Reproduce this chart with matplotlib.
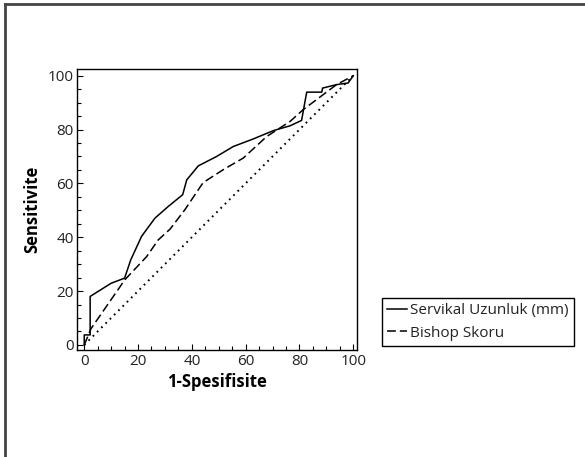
import matplotlib.pyplot as plt
from matplotlib.lines import Line2D
from matplotlib.ticker import MultipleLocator

plt.rcParams['font.family'] = ['Open Sans', 'DejaVu Sans']

# ROC curve points (1-specificity, sensitivity)
servikal_x = [0, 0, 2.2, 2.2, 10.0, 15.0, 17.3, 21.3, 26.3, 31.2, 36.6, 38.1, 42.4,
              49.2, 55.4, 62.8, 70.3, 76.5, 80.8, 82.7, 88.3, 88.6, 93.8, 98.1, 100]
servikal_y = [0, 3.7, 3.7, 18.0, 22.9, 24.8, 31.6, 40.3, 47.1, 51.4, 55.8, 61.3, 66.5,
              70.0, 73.7, 76.5, 79.6, 81.4, 83.4, 93.9, 93.9, 95.4, 96.7, 97.3, 100]

bishop_x = [0, 2.5, 15.1, 23.2, 27.5, 31.9, 37.4, 44.2, 51.7, 59.1, 67.8, 76.5, 81.4, 93.8, 100]
bishop_y = [0, 6.0, 24.2, 32.8, 39.0, 43.0, 50.2, 60.3, 65.1, 69.4, 77.4, 83.0, 87.4, 96.7, 100]

ref_x = [0, 100]
ref_y = [0, 100]

labels = ['Servikal Uzunluk (mm)', 'Bishop Skoru']

fig = plt.figure(figsize=(5.85, 4.57), dpi=100)
W, H = 585, 457
ax = fig.add_axes([76.7 / W, 1 - 350 / H, (357 - 76.7) / W, (350 - 69) / H])

ax.plot(servikal_x, servikal_y, color='black', linewidth=1.1, label=labels[0])
ax.plot(bishop_x, bishop_y, color='black', linewidth=1.1, dashes=(5.8, 2.6), label=labels[1])
ax.plot(ref_x, ref_y, color='black', linewidth=1.4, linestyle=(0, (0.9, 2.2)))

ax.set_xlim(-2.8, 101.4)
ax.set_ylim(-1.9, 102.5)
ax.xaxis.set_major_locator(MultipleLocator(20))
ax.xaxis.set_minor_locator(MultipleLocator(5))
ax.yaxis.set_major_locator(MultipleLocator(20))
ax.yaxis.set_minor_locator(MultipleLocator(5))
ax.tick_params(which='both', direction='in', width=0.8, labelsize=11,
               colors='black', labelcolor='#222222')
ax.tick_params(which='major', length=4)
ax.tick_params(which='minor', length=3)
ax.tick_params(axis='x', pad=3)
ax.tick_params(axis='y', pad=2)
for s in ax.spines.values():
    s.set_linewidth(1.0)

ax.set_xlabel('1-Spesifisite', fontsize=12, fontweight='bold', labelpad=3)
ax.set_ylabel('Sensitivite', fontsize=12, fontweight='bold', labelpad=5)

leg = fig.legend(loc='upper left', bbox_to_anchor=(381.7 / W, 1 - 297.7 / H),
                 borderaxespad=0, fontsize=11, frameon=True, fancybox=False,
                 edgecolor='black', framealpha=1, handlelength=1.3, handletextpad=0.2,
                 borderpad=0.35, labelspacing=0.5)
for t in leg.get_texts():
    t.set_color('#222222')

# outer frame (only left and top edges are visible)
fig.add_artist(Line2D([5 / W, 5 / W], [0, 1 - 3.5 / H], transform=fig.transFigure,
                      color='#444444', linewidth=2))
fig.add_artist(Line2D([5 / W, 1], [1 - 3.5 / H, 1 - 3.5 / H], transform=fig.transFigure,
                      color='#444444', linewidth=2))

fig.savefig('out.png', dpi=100)
